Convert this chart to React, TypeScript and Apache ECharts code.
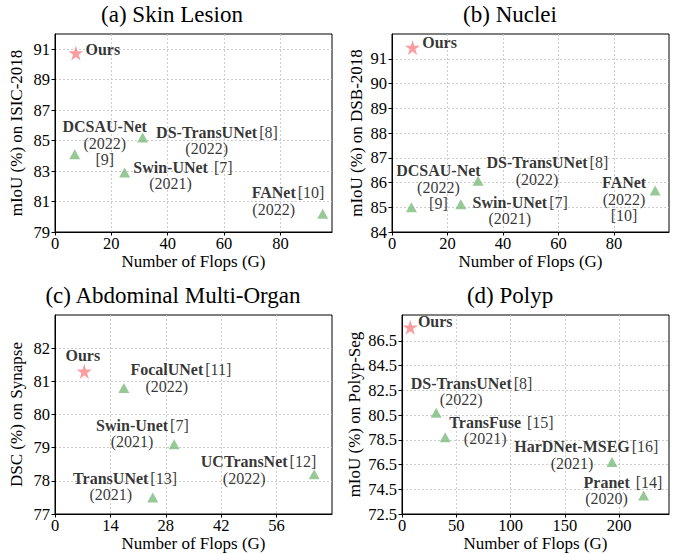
import React, { useEffect, useRef } from "react";
import * as echarts from "echarts";

const FONT = "Liberation Serif";

// (a) Skin Lesion
const skinNames = ["Ours", "DCSAU-Net", "DS-TransUNet", "Swin-UNet", "FANet"];
const skinFlops = [7.4, 7.0, 31.1, 24.7, 95.0];
const skinScores = [90.75, 84.1, 85.2, 82.9, 80.2];
const skinYears = ["", "(2022)", "(2022)", "(2021)", "(2022)"];
const skinRefs = ["", "[9]", "[8]", " [7]", "[10]"];
const skinXTicks = [0, 20, 40, 60, 80];
const skinYTicks = [79, 81, 83, 85, 87, 89, 91];

// (b) Nuclei
const nucleiNames = ["Ours", "DCSAU-Net", "DS-TransUNet", "Swin-UNet", "FANet"];
const nucleiFlops = [7.4, 7.0, 31.0, 24.8, 94.8];
const nucleiScores = [91.45, 85.0, 86.07, 85.12, 85.68];
const nucleiYears = ["", "(2022)", "(2022)", "(2021)", "(2022)"];
const nucleiRefs = ["", "[9]", "[8]", "[7]", "[10]"];
const nucleiXTicks = [0, 20, 40, 60, 80];
const nucleiYTicks = [84, 85, 86, 87, 88, 89, 90, 91];

// (c) Abdominal Multi-Organ
const organNames = ["Ours", "FocalUNet", "Swin-Unet", "UCTransNet", "TransUNet"];
const organFlops = [7.4, 17.4, 30.1, 65.5, 24.7];
const organScores = [81.3, 80.8, 79.1, 78.2, 77.5];
const organYears = ["", "(2022)", "(2021)", "(2022)", "(2021)"];
const organRefs = ["", "[11]", "[7]", "[12]", "[13]"];
const organXTicks = [0, 14, 28, 42, 56];
const organYTicks = [77, 78, 79, 80, 81, 82];

// (d) Polyp
const polypNames = ["Ours", "DS-TransUNet", "TransFuse", "HarDNet-MSEG", "Pranet"];
const polypFlops = [7.6, 31.5, 39.8, 193.5, 222.6];
const polypScores = [87.6, 80.7, 78.7, 76.7, 74.0];
const polypYears = ["", "(2022)", "(2021)", "(2021)", "(2020)"];
const polypRefs = ["", "[8]", " [15]", "[16]", " [14]"];
const polypXTicks = [0, 50, 100, 150, 200];
const polypYTicks = [72.5, 74.5, 76.5, 78.5, 80.5, 82.5, 84.5, 86.5];

// layout (label offsets relative to marker centre, px) and whether the reference goes on its own line
const skinLabelOffsets = [[27, -4], [30, -11], [64, 3], [46, 3], [-49, -12.5]];
const skinRefOwnLine = [false, true, false, false, false];
const nucleiLabelOffsets = [[27, -5], [27, -20], [59, -10], [49, 6], [-31, 9]];
const nucleiRefOwnLine = [false, true, false, false, true];
const organLabelOffsets = [[-1.5, -15.7], [43, -10], [-42, -11], [-70, -4], [-42, -11]];
const organRefOwnLine = [false, false, false, false, false];
const polypLabelOffsets = [[25, -5.6], [25, -21], [40, -7], [-40, -7], [-37, -5]];
const polypRefOwnLine = [false, false, false, false, false];

const STAR =
  "path://M50 0 L61.8 36.2 L100 36.2 L69.1 58.6 L80.9 95.1 L50 72.7 L19.1 95.1 L30.9 58.6 L0 36.2 L38.2 36.2 Z";
const STAR_COLOR = "#f7848a";
const TRI_COLOR = "#7dbb7d";
const ANN = 16;
const LH = 16.5;
const TICK = 16.5;
const NAME = 17;

let canvasCtx: CanvasRenderingContext2D | null = null;
function measure(text: string): number {
  if (!canvasCtx) canvasCtx = document.createElement("canvas").getContext("2d");
  if (!canvasCtx) return text.length * 8;
  canvasCtx.font = `${ANN}px Liberation Serif`;
  return canvasCtx.measureText(text).width;
}

function buildData(
  names: string[], flops: number[], scores: number[], years: string[], refs: string[],
  offsets: number[][], ownLine: boolean[]
) {
  return names.map((name, i) => {
    const isOurs = i === 0;
    let formatter: string;
    let padW = 0;
    if (isOurs) {
      formatter = `{b|${name}}`;
    } else if (ownLine[i]) {
      formatter = `{b|${name}}\n{r|${years[i]}}\n{r|${refs[i]}}`;
    } else {
      padW = measure(refs[i]) + 2;
      formatter = `{p| }{b|${name}}{rr|${refs[i]}}\n{r|${years[i]}}`;
    }
    return {
      value: [flops[i], scores[i]],
      symbol: isOurs ? STAR : "triangle",
      symbolSize: isOurs ? 15 : [11, 10],
      itemStyle: { color: isOurs ? STAR_COLOR : TRI_COLOR },
      label: {
        show: true,
        position: "inside",
        offset: offsets[i],
        align: "center",
        verticalAlign: "middle",
        color: "#000",
        textBorderWidth: 0,
        fontFamily: FONT,
        fontSize: ANN,
        lineHeight: LH,
        formatter,
        rich: {
          b: { fontFamily: FONT, fontSize: ANN, fontWeight: "bold", color: "#000", lineHeight: LH, textBorderWidth: 0 },
          r: { fontFamily: FONT, fontSize: ANN, color: "#000", lineHeight: LH, textBorderWidth: 0 },
          rr: { fontFamily: FONT, fontSize: ANN, color: "#000", lineHeight: LH, padding: [0, 0, 0, 2], textBorderWidth: 0 },
          p: { fontFamily: FONT, fontSize: ANN, width: padW, lineHeight: LH, color: "transparent", textBorderWidth: 0 },
        },
      },
    };
  });
}

const splitLine = { show: true, lineStyle: { color: "#c0c0c0", type: [2, 2], width: 0.8 } };

function xAxis(gridIndex: number, max: number, interval: number, ticks: number[]) {
  return {
    gridIndex, type: "value", min: 0, max, interval,
    axisLine: { show: true, onZero: false, lineStyle: { color: "#000", width: 1 } },
    axisTick: { show: true, inside: false, length: 3.5, customValues: ticks, lineStyle: { color: "#000", width: 1 } },
    axisLabel: { customValues: ticks, margin: 3, color: "#000", fontFamily: FONT, fontSize: TICK },
    splitLine,
    name: "Number of Flops (G)", nameLocation: "middle", nameGap: 21,
    nameTextStyle: { color: "#000", fontFamily: FONT, fontSize: NAME },
  };
}

function yAxis(gridIndex: number, min: number, max: number, interval: number, ticks: number[], name: string, nameGap: number) {
  return {
    gridIndex, type: "value", min, max, interval,
    axisLine: { show: true, onZero: false, lineStyle: { color: "#000", width: 1 } },
    axisTick: { show: true, inside: false, length: 3.5, customValues: ticks, lineStyle: { color: "#000", width: 1 } },
    axisLabel: { customValues: ticks, margin: 5, color: "#000", fontFamily: FONT, fontSize: TICK },
    splitLine,
    name, nameLocation: "middle", nameGap, nameRotate: 90,
    nameTextStyle: { color: "#000", fontFamily: FONT, fontSize: NAME },
  };
}

const gridStyle = { show: true, borderColor: "#000", borderWidth: 1, backgroundColor: "transparent" };

function titleText(text: string, x: number, y: number) {
  return {
    type: "text", x, y, silent: true,
    style: { text, fontFamily: FONT, fontSize: 23, fill: "#000", align: "center", verticalAlign: "middle" },
  };
}

export default function App() {
  const ref = useRef<HTMLDivElement>(null);
  useEffect(() => {
    if (!ref.current) return;
    const chart = echarts.init(ref.current, undefined, { renderer: "svg" });
    const option = {
      animation: false,
      backgroundColor: "#fff",
      textStyle: { fontFamily: FONT },
      grid: [
        { ...gridStyle, left: 55, top: 34, width: 277, height: 198 },
        { ...gridStyle, left: 392, top: 34, width: 277, height: 198 },
        { ...gridStyle, left: 55, top: 315, width: 277, height: 199 },
        { ...gridStyle, left: 402, top: 315, width: 267, height: 199 },
      ],
      xAxis: [
        xAxis(0, 98.3, 20, skinXTicks),
        xAxis(1, 99.8, 20, nucleiXTicks),
        xAxis(2, 70, 14, organXTicks),
        xAxis(3, 246, 50, polypXTicks),
      ],
      yAxis: [
        yAxis(0, 79, 92.0, 2, skinYTicks, "mIoU (%) on ISIC-2018", 30),
        yAxis(1, 84, 92.0, 1, nucleiYTicks, "mIoU (%) on DSB-2018", 27),
        yAxis(2, 77, 83, 1, organYTicks, "DSC (%) on Synapse", 30),
        yAxis(3, 72.5, 88.6, 2, polypYTicks, "mIoU (%) on Polyp-Seg", 39),
      ],
      graphic: [
        titleText("(a) Skin Lesion", 172, 14),
        titleText("(b) Nuclei", 510, 14),
        titleText("(c) Abdominal Multi-Organ", 173, 295),
        titleText("(d) Polyp", 510, 295),
      ],
      series: [
        { type: "scatter", xAxisIndex: 0, yAxisIndex: 0, data: buildData(skinNames, skinFlops, skinScores, skinYears, skinRefs, skinLabelOffsets, skinRefOwnLine) },
        { type: "scatter", xAxisIndex: 1, yAxisIndex: 1, data: buildData(nucleiNames, nucleiFlops, nucleiScores, nucleiYears, nucleiRefs, nucleiLabelOffsets, nucleiRefOwnLine) },
        { type: "scatter", xAxisIndex: 2, yAxisIndex: 2, data: buildData(organNames, organFlops, organScores, organYears, organRefs, organLabelOffsets, organRefOwnLine) },
        { type: "scatter", xAxisIndex: 3, yAxisIndex: 3, data: buildData(polypNames, polypFlops, polypScores, polypYears, polypRefs, polypLabelOffsets, polypRefOwnLine) },
      ],
    };
    chart.setOption(option as any);
    return () => chart.dispose();
  }, []);
  return (
    <div
      ref={ref}
      style={{ position: "fixed", left: 0, top: 0, width: 681, height: 554, background: "#fff" }}
    />
  );
}
